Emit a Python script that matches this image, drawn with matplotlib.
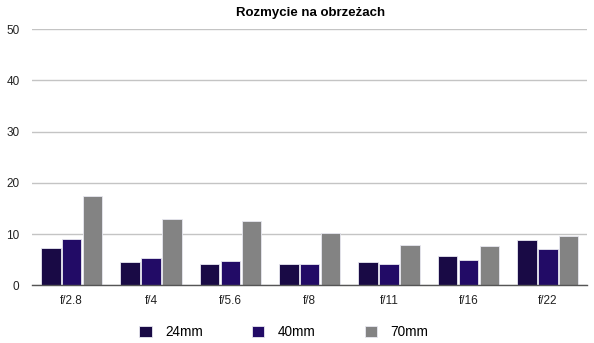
import matplotlib.pyplot as plt
import numpy as np

apertures = ["f/2.8", "f/4", "f/5.6", "f/8", "f/11", "f/16", "f/22"]
series_names = ["24mm", "40mm", "70mm"]
blur_24 = [7.3, 4.5, 4.1, 4.1, 4.6, 5.8, 8.9]
blur_40 = [9.1, 5.4, 4.8, 4.1, 4.1, 5.0, 7.1]
blur_70 = [17.4, 13.0, 12.6, 10.3, 7.9, 7.7, 9.7]
yticks = [0, 10, 20, 30, 40, 50]

COLORS = ["#190a45", "#220b66", "#838383"]

fig = plt.figure(figsize=(5.94, 3.43), dpi=100)
ax = fig.add_axes([0.054, 0.168, 0.935, 0.747])

x = np.arange(len(apertures))
width = 0.245
step = 0.264
for i, (name, vals) in enumerate(zip(series_names, [blur_24, blur_40, blur_70])):
    ax.bar(x + (i - 1) * step, vals, width=width, color=COLORS[i],
           edgecolor="#e8e8f0", linewidth=0.6, label=name, zorder=3)

ax.set_xlim(-0.5, len(apertures) - 0.5)
ax.set_ylim(0, 50)
ax.set_yticks(yticks)
ax.set_xticks(x)
ax.set_xticklabels(apertures)
ax.grid(axis="y", color="#c4c4c4", linewidth=1.0, zorder=0)
for side in ["top", "right", "left"]:
    ax.spines[side].set_visible(False)
ax.spines["bottom"].set_color("#555555")
ax.spines["bottom"].set_linewidth(1.0)
ax.spines["bottom"].set_zorder(4)
ax.tick_params(axis="both", length=0, labelsize=8.5, colors="#222222")
ax.tick_params(axis="y", pad=9)
ax.tick_params(axis="x", pad=7)

fig.text(0.522, 0.962, "Rozmycie na obrzeżach", ha="center", va="center",
         fontsize=9.5, fontweight="bold", family="Liberation Sans")
for lab in ax.get_xticklabels() + ax.get_yticklabels():
    lab.set_family("Liberation Sans")

handles, labels = ax.get_legend_handles_labels()
fig.legend(handles, labels, loc="center", bbox_to_anchor=(0.478, 0.032), ncol=3,
           frameon=False, handlelength=0.9, handleheight=0.9, columnspacing=3.6,
           handletextpad=1.0, prop={"family": "Liberation Sans", "size": 9.8})

fig.savefig("out.png", dpi=100)
